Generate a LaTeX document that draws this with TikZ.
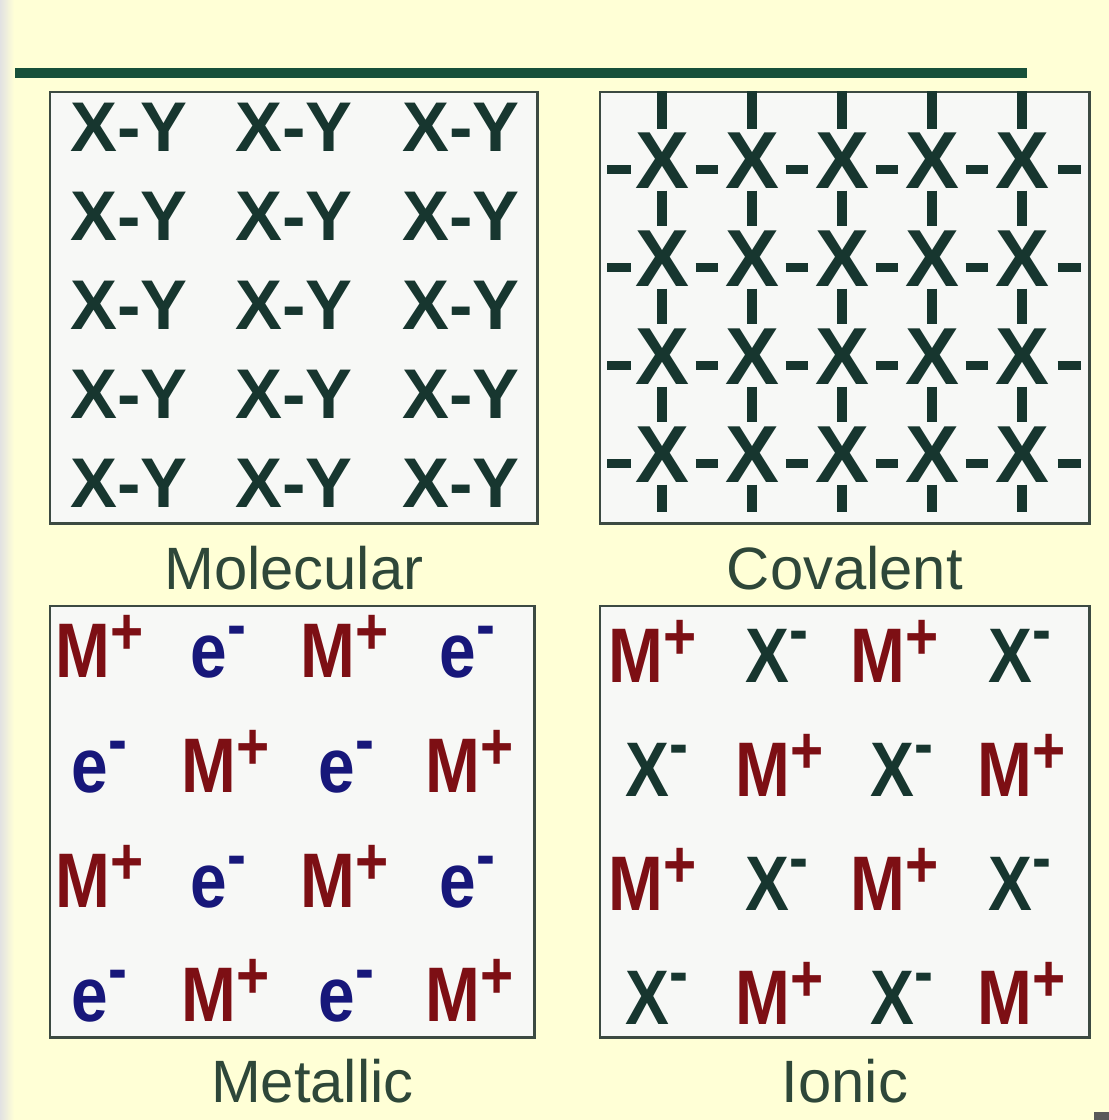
\documentclass[tikz,border=0pt]{standalone}
\usepackage{fontspec}
\setmainfont{Liberation Sans}
\newfontfamily\ionfont[FakeStretch=0.85]{Liberation Sans Bold}
\usepackage{xcolor}
\usepackage{tikz}
\usetikzlibrary{positioning}

\definecolor{bgyellow}{HTML}{FFFFD6}
\definecolor{stripgray}{HTML}{E2E2E2}
\definecolor{barfill}{HTML}{17503A}
\definecolor{frame}{HTML}{3C4A42}
\definecolor{boxfill}{HTML}{F7F8F6}
\definecolor{ink}{HTML}{17362F}
\definecolor{metred}{HTML}{7D0F14}
\definecolor{eblue}{HTML}{17177A}
\definecolor{capgreen}{HTML}{2E4739}

% raised charge signs
\newcommand{\pos}{\raisebox{6.5pt}{\fontsize{19pt}{19pt}\selectfont +}}
\newcommand{\negc}{\raisebox{8.5pt}{\fontsize{19pt}{19pt}\selectfont -}}

\begin{document}
\begin{tikzpicture}[x=0.01cm, y=-0.01cm,
    panel/.style={draw=frame, fill=boxfill, line width=0.7pt, anchor=north west, inner sep=0pt, minimum height=4.31cm},
    molec/.style={anchor=base, inner sep=0pt, text=ink, font=\fontsize{20pt}{24pt}\selectfont\bfseries},
    atom/.style={anchor=base, inner sep=0pt, text=ink, font=\fontsize{23pt}{27pt}\selectfont\bfseries},
    ion/.style={anchor=base west, inner sep=0pt, font=\ionfont\fontsize{22pt}{26pt}\selectfont},
    cation/.style={ion, text=metred},
    electron/.style={ion, text=eblue},
    anion/.style={ion, text=ink},
    caption/.style={inner sep=0pt, text=capgreen, font=\fontsize{17pt}{20pt}\selectfont},
    bond/.style={draw=ink, line width=2.6pt},
]
\useasboundingbox (0,0) rectangle (1109,1120);

% Background
\fill[bgyellow] (0,0) rectangle (1109,1120);
\shade[left color=stripgray, right color=bgyellow] (0,0) rectangle (14,1120);
\fill[barfill] (15,68) rectangle (1027,78);
\fill[black!65] (1094,1112) rectangle (1109,1120);

% Panels
\node[panel, minimum width=4.87cm] (mol) at (49,91) {};
\node[panel, minimum width=4.89cm] (cov) at (599,91) {};
\node[panel, minimum width=4.84cm] (met) at (49,605) {};
\node[panel, minimum width=4.89cm] (ion) at (599,605) {};

% Captions
\node[caption, below=0.21cm of mol] (molcap) {Molecular};
\node[caption, below=0.21cm of cov] (covcap) {Covalent};
\node[caption, below=0.2cm of met, xshift=0.2cm] (metcap) {Metallic};
\node[caption, below=0.2cm of ion] (ioncap) {Ionic};

% Molecular: X-Y pairs
\foreach \r/\yb in {1/151, 2/240, 3/329, 4/418, 5/507}
  \foreach \c/\xc in {1/129, 2/294, 3/461}
    \node[molec] (xy\r\c) at (\xc,\yb) {X-Y};

% Covalent: X network
\coordinate (covfoot) at (843,512);
\foreach \r/\yb in {1/188, 2/286, 3/384, 4/482}
  \foreach \c/\xc in {1/662, 2/752, 3/842, 4/932, 5/1022}
    \node[atom] (x\r\c) at (\xc,\yb) {X};

\foreach \r in {1,...,4}{
  \foreach \c [evaluate=\c as \n using int(\c+1)] in {1,...,4}
    \draw[bond, shorten <=0.06cm, shorten >=0.06cm] ([yshift=-0.09cm]x\r\c.east) -- ([yshift=-0.09cm]x\r\n.west);
  \draw[bond, shorten <=0.08cm, shorten >=0.03cm] ([yshift=-0.09cm]x\r1.west -| cov.west) -- ([yshift=-0.09cm]x\r1.west);
  \draw[bond, shorten <=0.08cm, shorten >=0.1cm] ([yshift=-0.09cm]x\r5.east) -- ([yshift=-0.09cm]x\r5.east -| cov.east);
}
\foreach \c in {1,...,5}{
  \draw[bond, shorten >=0.03cm] (x1\c.north |- cov.north) -- (x1\c.north);
  \foreach \r [evaluate=\r as \n using int(\r+1)] in {1,...,3}
    \draw[bond, shorten <=0.02cm, shorten >=0.04cm] (x\r\c.south) -- (x\n\c.north);
  \draw[bond, shorten <=0.02cm] (x4\c.south) -- (x4\c.south |- covfoot);
}

% Metallic: M+ and e-
\foreach \r/\yb in {1/677, 3/907}{
  \node[cation] (met\r-1) at (55,\yb) {M\pos};
  \node[electron] (met\r-2) at (190,\yb) {e\negc};
  \node[cation] (met\r-3) at (300,\yb) {M\pos};
  \node[electron] (met\r-4) at (439,\yb) {e\negc};
}
\foreach \r/\yb in {2/792, 4/1021}{
  \node[electron] (met\r-1) at (71,\yb) {e\negc};
  \node[cation] (met\r-2) at (181,\yb) {M\pos};
  \node[electron] (met\r-3) at (318,\yb) {e\negc};
  \node[cation] (met\r-4) at (425,\yb) {M\pos};
}

% Ionic: M+ and X-
\foreach \r/\yb in {1/682, 3/910}{
  \node[cation] (ion\r-1) at (608,\yb) {M\pos};
  \node[anion] (ion\r-2) at (745,\yb) {X\negc};
  \node[cation] (ion\r-3) at (850,\yb) {M\pos};
  \node[anion] (ion\r-4) at (988,\yb) {X\negc};
}
\foreach \r/\yb in {2/796, 4/1024}{
  \node[anion] (ion\r-1) at (625,\yb) {X\negc};
  \node[cation] (ion\r-2) at (735,\yb) {M\pos};
  \node[anion] (ion\r-3) at (870,\yb) {X\negc};
  \node[cation] (ion\r-4) at (977,\yb) {M\pos};
}
\end{tikzpicture}
\end{document}
